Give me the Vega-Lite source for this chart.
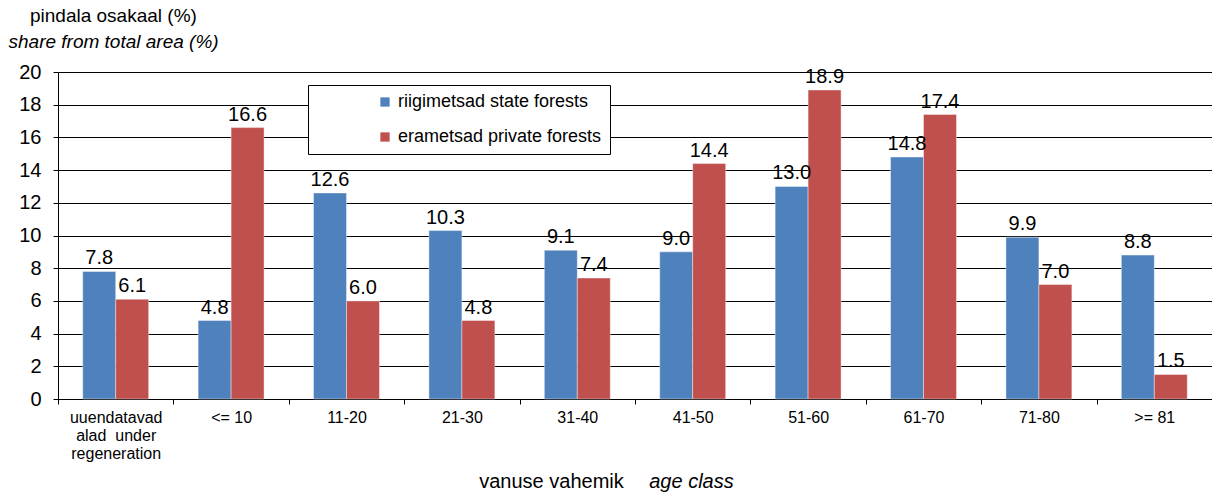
{
  "$schema": "https://vega.github.io/schema/vega-lite/v6.json",
  "autosize": {"type": "none"},
  "padding": {"left": 58, "top": 72, "right": 0, "bottom": 94},
  "width": 1154,
  "height": 327,
  "background": "white",
  "config": {
    "font": "Liberation Sans",
    "view": {"stroke": null},
    "axis": {"labelFont": "Liberation Sans", "titleFont": "Liberation Sans", "labelColor": "#000", "titleColor": "#000", "domainColor": "#000", "tickColor": "#000"}
  },
  "title": {
    "text": "pindala osakaal (%)",
    "anchor": "start",
    "frame": "group",
    "dx": -28,
    "offset": 6,
    "fontSize": 19,
    "fontWeight": "normal",
    "font": "Liberation Sans",
    "color": "#000"
  },
  "data": {
    "values": [
      {"age": "uuendatavad alad under regeneration", "series": "riigimetsad state forests", "value": 7.8},
      {"age": "uuendatavad alad under regeneration", "series": "erametsad private forests", "value": 6.1},
      {"age": "<= 10", "series": "riigimetsad state forests", "value": 4.8},
      {"age": "<= 10", "series": "erametsad private forests", "value": 16.6},
      {"age": "11-20", "series": "riigimetsad state forests", "value": 12.6},
      {"age": "11-20", "series": "erametsad private forests", "value": 6.0},
      {"age": "21-30", "series": "riigimetsad state forests", "value": 10.3},
      {"age": "21-30", "series": "erametsad private forests", "value": 4.8},
      {"age": "31-40", "series": "riigimetsad state forests", "value": 9.1},
      {"age": "31-40", "series": "erametsad private forests", "value": 7.4},
      {"age": "41-50", "series": "riigimetsad state forests", "value": 9.0},
      {"age": "41-50", "series": "erametsad private forests", "value": 14.4},
      {"age": "51-60", "series": "riigimetsad state forests", "value": 13.0},
      {"age": "51-60", "series": "erametsad private forests", "value": 18.9},
      {"age": "61-70", "series": "riigimetsad state forests", "value": 14.8},
      {"age": "61-70", "series": "erametsad private forests", "value": 17.4},
      {"age": "71-80", "series": "riigimetsad state forests", "value": 9.9},
      {"age": "71-80", "series": "erametsad private forests", "value": 7.0},
      {"age": ">= 81", "series": "riigimetsad state forests", "value": 8.8},
      {"age": ">= 81", "series": "erametsad private forests", "value": 1.5}
    ]
  },
  "encoding": {
    "x": {
      "field": "age",
      "type": "nominal",
      "sort": null,
      "scale": {"paddingInner": 0, "paddingOuter": 0}
    },
    "xOffset": {
      "field": "series",
      "type": "nominal",
      "sort": ["riigimetsad state forests", "erametsad private forests"],
      "scale": {"paddingInner": 0, "paddingOuter": 0.75}
    },
    "y": {
      "field": "value",
      "type": "quantitative",
      "scale": {"domain": [0, 20], "nice": false},
      "axis": {
        "values": [0, 2, 4, 6, 8, 10, 12, 14, 16, 18, 20],
        "grid": true,
        "gridColor": "#000",
        "gridWidth": 1,
        "tickSize": 5,
        "labelPadding": 12,
        "labelFontSize": 20,
        "domainWidth": 1,
        "title": "share from total area (%)",
        "titleAngle": 0,
        "titleAlign": "left",
        "titleBaseline": "alphabetic",
        "titleX": -50,
        "titleY": -25,
        "titleFontSize": 19,
        "titleFontWeight": "normal",
        "titleFontStyle": "italic"
      }
    }
  },
  "layer": [
    {
      "mark": {"type": "bar", "stroke": "#ffffff", "strokeWidth": 1, "strokeOpacity": 0.4},
      "encoding": {
        "x": {
          "field": "age",
          "type": "nominal",
          "sort": null,
          "axis": {
            "orient": "bottom",
            "labelAngle": 0,
            "labelFontSize": 16,
            "labelPadding": 5,
            "labelLineHeight": 18,
            "labelBaseline": "top",
            "tickBand": "extent",
            "tickSize": 5,
            "labelExpr": "indexof(datum.label, 'regeneration') >= 0 ? ['uuendatavad', 'alad\u00a0 under', 'regeneration'] : datum.label",
            "title": "vanuse vahemik",
            "titleFontSize": 20,
            "titleFontWeight": "normal",
            "titleX": 493,
            "titleY": 88,
            "titleBaseline": "alphabetic",
            "titleAlign": "center"
          }
        },
        "color": {
          "field": "series",
          "type": "nominal",
          "scale": {"domain": ["riigimetsad state forests", "erametsad private forests"], "range": ["#4F81BD", "#C0504D"]},
          "legend": {
            "orient": "none",
            "legendX": 250,
            "legendY": 13,
            "title": "\u2003\u2003\u2003",
            "titleOrient": "right",
            "titleFontSize": 18,
            "titlePadding": 0,
            "strokeColor": "#000",
            "fillColor": "#fff",
            "padding": 8,
            "symbolType": "square",
            "symbolSize": 86,
            "symbolStrokeWidth": 0,
            "symbolOffset": 60,
            "labelFontSize": 18,
            "labelLimit": 400,
            "labelFont": "Liberation Sans",
            "labelColor": "#000",
            "labelOffset": 4,
            "rowPadding": 17
          }
        }
      }
    },
    {
      "mark": {"type": "text", "baseline": "alphabetic", "dy": -7, "fontSize": 20, "font": "Liberation Sans", "color": "#000"},
      "encoding": {
        "x": {
          "field": "age",
          "type": "nominal",
          "sort": null,
          "axis": {
            "orient": "top",
            "labels": false,
            "ticks": false,
            "domain": false,
            "title": "age class",
            "titleFontSize": 20,
            "titleFontWeight": "normal",
            "titleFontStyle": "italic",
            "titleX": 633,
            "titleY": 415,
            "titleBaseline": "alphabetic",
            "titleAlign": "center"
          }
        },
        "text": {"field": "value", "type": "quantitative", "format": ".1f"}
      }
    }
  ],
  "resolve": {"axis": {"x": "independent"}}
}
